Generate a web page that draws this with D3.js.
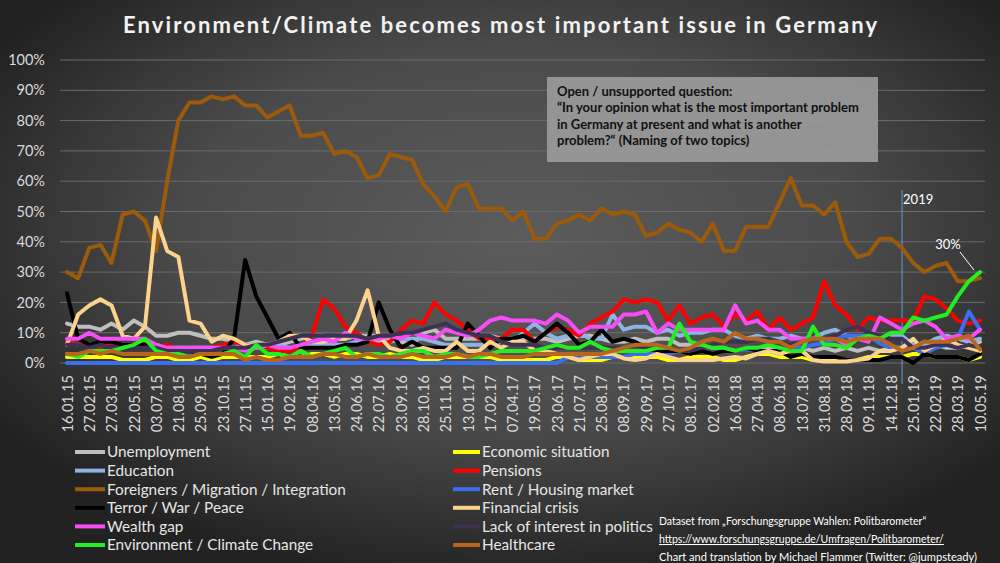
<!DOCTYPE html>
<html>
<head>
<meta charset="utf-8">
<script src="https://cdn.jsdelivr.net/npm/d3@7"></script>
<style>
html, body { margin: 0; padding: 0; background: #333; }
svg { display: block; font-family: Lato, "Open Sans", sans-serif; }
</style>
</head>
<body>
<script>
var width = 1000, height = 563;

// x axis: every second survey is labelled
var tickLabels = ["16.01.15","27.02.15","27.03.15","22.05.15","03.07.15","21.08.15","25.09.15","23.10.15","27.11.15","15.01.16",
  "19.02.16","08.04.16","13.05.16","24.06.16","22.07.16","23.09.16","28.10.16","25.11.16","13.01.17","17.02.17",
  "07.04.17","19.05.17","23.06.17","21.07.17","25.08.17","08.09.17","29.09.17","27.10.17","08.12.17","02.02.18",
  "16.03.18","27.04.18","08.06.18","13.07.18","31.08.18","28.09.18","09.11.18","14.12.18","25.01.19","22.02.19",
  "28.03.19","10.05.19"];

// share of mentions in % (83 surveys)
var unemployment = [13,12,12,11,13,11,14,12,9,9,10,10,9,8,8,7,6,7,6,6,7,8,
  9,9,8,8,9,9,9,8,7,6,10,11,8,8,8,8,9,8,8,8,
  8,8,7,8,9,9,8,7,7,8,7,8,8,6,6,6,5,5,4,5,
  4,5,4,4,5,4,5,4,5,4,5,4,5,5,5,7,6,5,5,6,7];
var economy = [2,2,2,2,2,1,1,1,2,2,1,1,2,1,2,2,2,2,2,3,2,2,
  3,3,2,3,3,2,2,3,2,2,1,1,2,2,2,2,2,1,1,1,
  1,1,2,2,1,1,1,2,2,2,2,2,1,1,2,2,2,1,1,2,
  3,3,2,2,2,1,1,1,1,1,2,2,2,2,3,3,2,2,2,1,2];
var education = [7,6,6,6,7,6,6,7,6,5,5,5,5,5,5,5,6,5,5,6,5,5,
  6,6,6,6,7,8,7,7,8,8,8,7,6,6,6,6,6,7,7,10,
  13,10,8,9,10,8,8,16,11,12,12,10,11,9,10,10,11,11,9,8,
  9,8,8,9,8,8,10,11,9,8,9,8,9,9,6,6,8,9,8,7,8];
var pensions = [7,6,6,5,7,6,6,7,5,6,4,4,4,5,6,7,6,5,5,4,4,5,
  9,21,18,12,10,7,6,7,11,14,13,20,16,14,11,8,8,8,11,11,
  7,10,12,11,9,13,15,17,21,20,21,20,14,19,13,15,16,12,16,14,
  17,11,15,11,13,15,27,19,16,11,15,14,14,14,14,22,21,18,14,13,14];
var foreigners = [30,28,38,39,33,49,50,47,37,60,80,86,86,88,87,88,85,85,81,83,85,75,75,76,69,
  70,68,61,62,69,68,67,59,55,50,58,59,51,51,51,47,50,41,41,46,47,49,47,51,49,50,49,42,43,46,
  44,43,40,46,37,37,45,45,45,53,61,52,52,49,53,40,35,36,41,41,38,33,30,32,33,27,27,28];
var rent = [0,0,0,0,0,0,0,0,0,0,0,0,0,0,0,0,0,0,0,0,0,0,
  0,0,0,0,0,0,0,0,0,0,0,0,0,0,0,0,0,0,0,0,
  0,0,0,2,1.5,2,2,2,2,3,3,3,3,4,4,4,3,4,4,4.5,
  4,4,3,5,5,6,6.5,8,9,9,9,6.5,5,5,5,3,5,6,8,17,11];
var terror = [23,8,6,7,7,6,6,6,5,5,4,4,3,2,3,8,34,22,15,8,10,5,
  5,5,5,6,6,7,20,11,5,7,5,5,5,5,13,9,5,8,8,9,
  7,10,13,10,6,7,11,7,8,7,5,4,4,4,3,4,3,4,4,5,
  4,4,4,2,3,2,2,2,1,1,1,1,2,2,0,3,2,2,2,1,3];
var financialCrisis = [6,16,19,21,19,9,8,12,48,37,35,14,13,7,9,8,6,5,6,7,9,9,
  7,7,8,8,14,24,9,5,4,4,5,4,4,7,4,4,7,5,7,7,
  4,4,3,2,1,2,3,3,1.5,1,1.5,3,2,1,1,1,1,1.5,2,1.5,
  3,4,3,4,4,1,0.5,0.5,0.5,1,1.5,4,4,5,8,4,6,8,6,5,4];
var wealthGap = [8,8,10,8,8,8,8,8,6,5,5,5,5,5,5,5,4,5,6,5,5,6,
  7,8,7,10,8,8,8,9,8,10,9,8,11,10,9,11,14,15,14,14,
  14,13,16,14,10,12,12,12,16,16,17,10,13,11,11,11,11,11,19,13,
  14,11,11,8,8,8,8,8,6,8,7,15,13,11,13,14,12,8,9,8,11];
var noInterest = [6,6,5,6,5,5,5,5,5,4,4,4,4,4,5,5,5,6,6,7,8,9,
  9,9,9,9,9,8,9,9,10,10,11,12,13,11,10,9,9,7,6,6,
  6,5,5,5,5,5,5,5,5,6,5,5,5,4,4,5,6,7,7,7,
  8,8,7,6,7,8,8,9,11,12,10,9,8,8,5,5,6,6,5,6,5];
var environment = [3,2,4,4,4,5,6,8,4,3,3,2,3,3,3,4,2,6,3,3,2,4,
  2,3,4,5,2,3,3,2,3,4,4,2,3,3,2,2,3,4,4,4,
  4,5,6,5,5,7,5,4,4,4,4,5,5,13,7,6,5,5,4,5,
  5,6,5,4,4,12,6,6,5,8,9,8,10,10,15,14,15,16,22,27,30];
var healthcare = [3,3,4,3,4,3,3,3,3,3,2,2,3,3,3,3,1,2,1,1,2,2,
  2,3,3,2,2,3,2,2,2,3,2,2,2,3,2,3,3,2,2,2,
  3,3,3,3,3,3,3,4,5,6,6,6,5,4,5,7,8,7,10,8,
  8,7,7,5,7,8,8,8,7,8,8,8,6,4,5,7,7,7,8,9,4.5];

var seriesNames = ["Unemployment","Economic situation","Education","Pensions",
  "Foreigners / Migration / Integration","Rent / Housing market","Terror / War / Peace","Financial crisis",
  "Wealth gap","Lack of interest in politics","Environment / Climate Change","Healthcare"];
var seriesValues = [unemployment, economy, education, pensions, foreigners, rent, terror,
  financialCrisis, wealthGap, noInterest, environment, healthcare];
var seriesColors = ["#bfbfbf","#ffff00","#8db4e2","#ff0000","#9c5b0b","#3a6ff0","#000000",
  "#fcd38c","#f64ef6","#3f3151","#22ee22","#b8661e"];

var svg = d3.select("body").append("svg")
    .attr("width", width)
    .attr("height", height);

// background
var grad = svg.append("defs").append("radialGradient")
    .attr("id", "bg").attr("cx", "52%").attr("cy", "42%").attr("r", "62%");
grad.append("stop").attr("offset", "0%").attr("stop-color", "#5c5c5c");
grad.append("stop").attr("offset", "55%").attr("stop-color", "#4a4a4a");
grad.append("stop").attr("offset", "100%").attr("stop-color", "#222");
svg.append("rect").attr("width", width).attr("height", height).attr("fill", "url(#bg)");

var x = d3.scaleLinear().domain([0, foreigners.length - 1]).range([67, 980]);
var y = d3.scaleLinear().domain([0, 100]).range([363, 60]);

// title
svg.append("text")
    .attr("x", 500).attr("y", 33)
    .attr("text-anchor", "middle")
    .attr("fill", "#f2f2f2")
    .style("font-size", "22px").style("font-weight", "bold")
    .attr("textLength", 754).attr("lengthAdjust", "spacing")
    .text("Environment/Climate becomes most important issue in Germany");

// gridlines
svg.append("g").selectAll("line")
    .data(d3.range(0, 101, 10))
    .enter().append("line")
    .attr("x1", 60).attr("x2", 985)
    .attr("y1", d => y(d)).attr("y2", d => y(d))
    .attr("stroke", "#6c6c6c").attr("stroke-width", 1);

// y axis
var yAxis = svg.append("g")
    .attr("transform", "translate(48,0)")
    .call(d3.axisLeft(y).tickValues(d3.range(0, 101, 10)).tickFormat(d => d + "%").tickSize(0).tickPadding(3));
yAxis.select(".domain").remove();
yAxis.selectAll("text").attr("fill", "#d9d9d9").style("font-size", "14.5px").style("font-family", "Lato");

// x axis
var xAxis = svg.append("g")
    .attr("transform", "translate(0,363)")
    .call(d3.axisBottom(x).tickValues(d3.range(0, foreigners.length, 2))
        .tickFormat(d => tickLabels[d / 2]).tickSize(0));
xAxis.select(".domain").remove();
xAxis.selectAll("text")
    .attr("transform", "rotate(-90)")
    .attr("x", -12).attr("y", 0).attr("dy", "0.36em")
    .attr("text-anchor", "end")
    .attr("fill", "#d9d9d9").style("font-size", "14.5px").style("font-family", "Lato");

// 2019 marker
svg.append("line")
    .attr("x1", x(75)).attr("x2", x(75)).attr("y1", 190).attr("y2", 384)
    .attr("stroke", "#6a9ad8").attr("stroke-width", 1);
svg.append("text").attr("x", x(75) + 1).attr("y", 204)
    .attr("fill", "#fff").style("font-size", "13px").text("2019");

// lines
var line = d3.line()
    .x((d, i) => x(i))
    .y(d => y(d));

svg.append("g").selectAll("path")
    .data(seriesValues)
    .enter().append("path")
    .attr("d", line)
    .attr("fill", "none")
    .attr("stroke", (d, i) => seriesColors[i])
    .attr("stroke-width", 4)
    .attr("stroke-linejoin", "round")
    .attr("stroke-linecap", "round");

// 30% callout
var last = environment.length - 1;
svg.append("line")
    .attr("x1", 960).attr("y1", 252).attr("x2", x(last) - 6).attr("y2", y(environment[last]) - 2)
    .attr("stroke", "#fff").attr("stroke-width", 1);
svg.append("text").attr("x", 948).attr("y", 249).attr("text-anchor", "middle")
    .attr("fill", "#fff").style("font-size", "13px").text("30%");

// question box
svg.append("rect")
    .attr("x", 547).attr("y", 77).attr("width", 331).attr("height", 85)
    .attr("fill", "#9a9a9a").attr("opacity", 0.92);
var question = ["Open / unsupported question:",
  "“In your opinion what is the most important problem",
  "in Germany at present and what is another",
  "problem?“ (Naming of two topics)"];
svg.append("g").selectAll("text")
    .data(question)
    .enter().append("text")
    .attr("x", 557).attr("y", (d, i) => 96 + i * 16.3)
    .attr("fill", "#111").style("font-size", "13px").style("font-weight", "bold")
    .text(d => d);

// legend
var legend = svg.append("g").selectAll("g")
    .data(seriesNames)
    .enter().append("g")
    .attr("transform", (d, i) => "translate(" + (i % 2 ? 453 : 75) + "," + (452 + Math.floor(i / 2) * 18.6) + ")");
legend.append("line")
    .attr("x1", 0).attr("x2", (d, i) => i % 2 ? 27 : 30)
    .attr("stroke", (d, i) => seriesColors[i]).attr("stroke-width", 4);
legend.append("text")
    .attr("x", (d, i) => i % 2 ? 29 : 32).attr("dy", "0.35em")
    .attr("fill", "#e6e6e6").style("font-size", "15.3px")
    .text(d => d);

// source
var source = svg.append("g").attr("fill", "#fff").style("font-size", "10.5px");
source.append("text").attr("x", 659).attr("y", 525).text("Dataset from  „Forschungsgruppe Wahlen: Politbarometer“");
source.append("text").attr("x", 659).attr("y", 543).style("text-decoration", "underline")
    .text("https://www.forschungsgruppe.de/Umfragen/Politbarometer/");
source.append("text").attr("x", 659).attr("y", 561)
    .attr("textLength", 318).attr("lengthAdjust", "spacingAndGlyphs")
    .text("Chart and translation by  Michael Flammer  (Twitter: @jumpsteady)");
</script>
</body>
</html>
